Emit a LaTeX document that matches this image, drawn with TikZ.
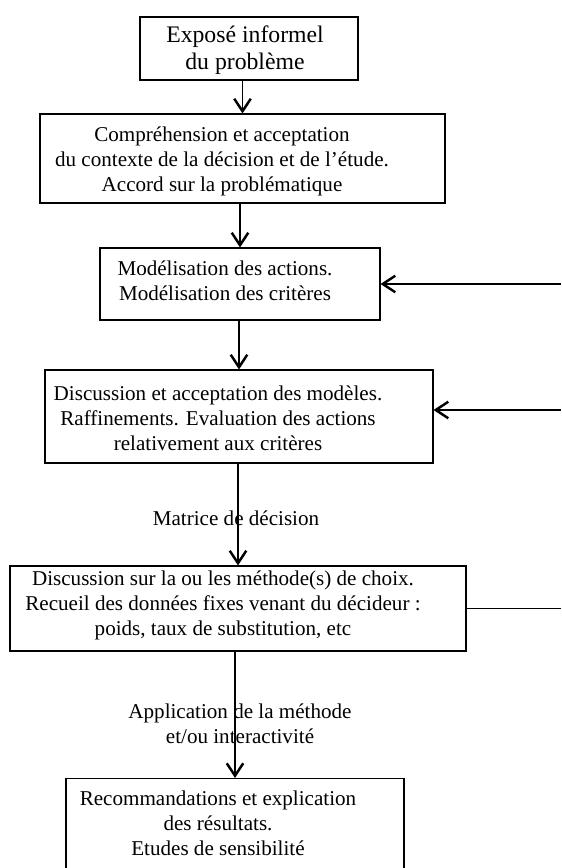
\documentclass[tikz,border=0pt]{standalone}
\usepackage{fontspec}
\setmainfont{Liberation Serif}
\usepackage{tikz}
\usetikzlibrary{positioning, arrows.meta}

\tikzset{
  cadre/.style={draw, line width=0.6pt, inner sep=0pt},
  texte/.style={align=center, font=\fontsize{12}{14.2}\selectfont},
  fleche/.style={line width=0.6pt, -{Straight Barb[length=2.5mm, width=3.3mm, line width=1.4pt]}}
}

\begin{document}
\begin{tikzpicture}
  \clip (0,0) rectangle (11.22,-17.36);
  \coordinate (bord) at (11.22,0);
  % boites
  \node[cadre, minimum width=4.36cm, minimum height=1.26cm] (expose) at (4.98,-0.97) {};
  \node[texte, font=\fontsize{13.5}{15.5}\selectfont] (exposeT) at ([xshift=-0.08cm, yshift=-0.04cm]expose.center) {Exposé informel\\ du problème};
  \node[cadre, minimum width=8.10cm, minimum height=1.78cm] (contexte) at (4.85,-3.17) {};
  \node[texte] (contexteT) at ([xshift=-0.41cm, yshift=-0.06cm]contexte.center) {Compréhension et acceptation\\ du contexte de la décision et de l'étude.\\ Accord sur la problématique};
  \node[cadre, minimum width=5.60cm, minimum height=1.44cm] (modeles) at (4.80,-5.68) {};
  \node[texte] (modelesT) at ([xshift=-0.30cm, yshift=0.06cm]modeles.center) {Modélisation des actions.\\ Modélisation des critères};
  \node[cadre, minimum width=7.76cm, minimum height=1.86cm] (discussion) at (4.78,-8.33) {};
  \node[texte] (discussionT) at ([xshift=-0.42cm, yshift=-0.04cm]discussion.center) {Discussion et acceptation des modèles.\\ Raffinements. Evaluation des actions\\ relativement aux critères};
  \node[cadre, minimum width=9.12cm, minimum height=1.70cm] (methode) at (4.76,-12.17) {};
  \node[texte] (methodeT) at ([xshift=-0.3cm, yshift=0.07cm]methode.center) {Discussion sur la ou les méthode(s) de choix.\\ Recueil des données fixes venant du décideur :\\ poids, taux de substitution, etc};
  \node[cadre, minimum width=6.76cm, minimum height=2.4cm, anchor=north] (recomm) at (4.70,-15.56) {};
  \node[texte, anchor=north] (recommT) at ([xshift=-0.34cm, yshift=-0.14cm]recomm.north) {Recommandations et explication\\ des résultats.\\ Etudes de sensibilité};
  % etiquettes
  \node[texte] (matrice) at (4.72,-10.36) {Matrice de décision};
  \node[texte] (application) at (4.80,-14.48) {Application de la méthode\\ et/ou interactivité};
  % fleches
  \draw[fleche] (expose.south -| contexte.north) -- (contexte.north);
  \draw[fleche] (contexte.south -| modeles.north) -- (modeles.north);
  \draw[fleche] (modeles.south -| discussion.north) -- (discussion.north);
  \draw[fleche] (discussion.south -| methode.north) -- (methode.north);
  \draw[fleche] (methode.south -| recomm.north) -- (recomm.north);
  \draw[fleche] (modeles.east -| bord) -- (modeles.east);
  \draw[fleche] ([yshift=0.13cm]discussion.east -| bord) -- ([yshift=0.13cm]discussion.east);
  \draw[line width=0.6pt] (methode.east) -- (methode.east -| bord);
\end{tikzpicture}
\end{document}
